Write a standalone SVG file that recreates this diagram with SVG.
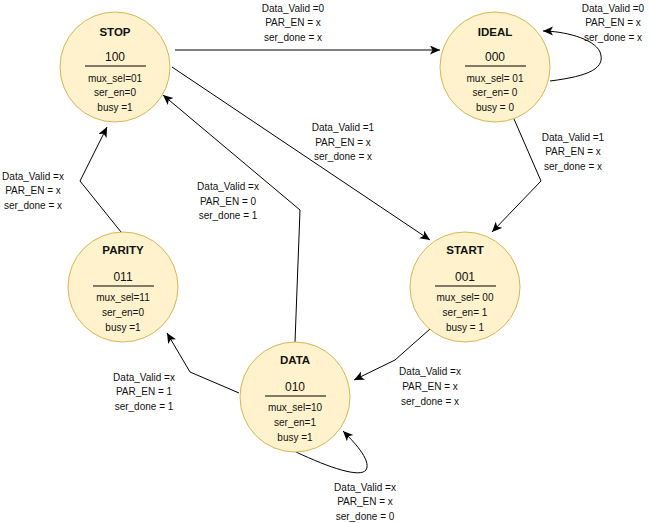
<svg xmlns="http://www.w3.org/2000/svg" width="650" height="523" viewBox="0 0 650 523">
<style>
.st{fill:#fff2cc;stroke:#d6b656;stroke-width:1}
.ttl{font-family:"Liberation Sans",Arial,sans-serif;font-size:11.5px;font-weight:bold;fill:#111;text-anchor:middle}
.code{font-family:"Liberation Sans",Arial,sans-serif;font-size:12px;fill:#111;text-anchor:middle}
.t{font-family:"Liberation Sans",Arial,sans-serif;font-size:10px;fill:#111;text-anchor:middle}
.sep{stroke:#000;stroke-width:1}
.e{fill:none;stroke:#000;stroke-width:1;marker-end:url(#ah)}
.lb{font-family:"Liberation Sans",Arial,sans-serif;font-size:10px;fill:#111;text-anchor:middle}
</style>
<defs>
<marker id="ah" markerUnits="userSpaceOnUse" markerWidth="12" markerHeight="10" refX="10" refY="4.5" orient="auto">
<path d="M0,0 L10,4.5 L0,9 L2.5,4.5 z" fill="#000"/>
</marker>
</defs>
<rect width="650" height="523" fill="#fff"/>
<g id="connectors">
<path class="e" d="M175,50 L440,50"/>
<path class="e" d="M550,81 C590,76 606,68 600,52 C594,38 562,31 543,31"/>
<path class="e" d="M514,119 L541,181 L492,232"/>
<path class="e" d="M172,67 L430,240"/>
<path class="e" d="M430,329 L395,360 L354,380"/>
<path class="e" d="M296,452 C330,468 360,478 366,470 C372,460 352,440 343,431"/>
<path class="e" d="M239,393 L190,372 L167,333"/>
<path class="e" d="M295,342 L300,210 L163,95"/>
<path class="e" d="M121,232 L80,181 L107,127"/>
</g>
<g id="labels">
<text class="lb" x="293" y="12">Data_Valid =0</text><text class="lb" x="293" y="26">PAR_EN = x</text><text class="lb" x="293" y="41">ser_done = x</text>
<text class="lb" x="613" y="12">Data_Valid =0</text><text class="lb" x="613" y="26">PAR_EN = x</text><text class="lb" x="613" y="41">ser_done = x</text>
<text class="lb" x="343" y="131">Data_Valid =1</text><text class="lb" x="343" y="146">PAR_EN = x</text><text class="lb" x="343" y="160">ser_done = x</text>
<text class="lb" x="573" y="141">Data_Valid =1</text><text class="lb" x="573" y="155">PAR_EN = x</text><text class="lb" x="573" y="170">ser_done = x</text>
<text class="lb" x="33" y="180">Data_Valid =x</text><text class="lb" x="33" y="194">PAR_EN = x</text><text class="lb" x="33" y="209">ser_done = x</text>
<text class="lb" x="228" y="190">Data_Valid =x</text><text class="lb" x="228" y="205">PAR_EN = 0</text><text class="lb" x="228" y="219">ser_done = 1</text>
<text class="lb" x="144" y="381">Data_Valid =x</text><text class="lb" x="144" y="395">PAR_EN = 1</text><text class="lb" x="144" y="410">ser_done = 1</text>
<text class="lb" x="430" y="375">Data_Valid =x</text><text class="lb" x="430" y="390">PAR_EN = x</text><text class="lb" x="430" y="405">ser_done = x</text>
<text class="lb" x="365" y="491">Data_Valid =x</text><text class="lb" x="365" y="505">PAR_EN = x</text><text class="lb" x="365" y="520">ser_done = 0</text>
</g>
<g id="stop">
<circle class="st" cx="115" cy="67" r="55"/>
<text class="ttl" x="115" y="36">STOP</text>
<text class="code" x="115" y="61">100</text>
<line class="sep" x1="85" y1="66" x2="146" y2="66"/>
<text class="t" x="115" y="82">mux_sel=01</text>
<text class="t" x="115" y="96">ser_en=0</text>
<text class="t" x="115" y="111">busy =1</text>
</g>
<g id="ideal">
<circle class="st" cx="495" cy="67" r="55"/>
<text class="ttl" x="495" y="36">IDEAL</text>
<text class="code" x="495" y="61">000</text>
<line class="sep" x1="465" y1="66" x2="526" y2="66"/>
<text class="t" x="495" y="82">mux_sel= 01</text>
<text class="t" x="495" y="96">ser_en= 0</text>
<text class="t" x="495" y="111">busy = 0</text>
</g>
<g id="parity">
<circle class="st" cx="123" cy="287" r="55"/>
<text class="ttl" x="123" y="254">PARITY</text>
<text class="code" x="123" y="281">011</text>
<line class="sep" x1="93" y1="286" x2="154" y2="286"/>
<text class="t" x="123" y="301">mux_sel=11</text>
<text class="t" x="123" y="316">ser_en=0</text>
<text class="t" x="123" y="331">busy =1</text>
</g>
<g id="start">
<circle class="st" cx="465" cy="287" r="55"/>
<text class="ttl" x="465" y="254">START</text>
<text class="code" x="465" y="281">001</text>
<line class="sep" x1="435" y1="286" x2="496" y2="286"/>
<text class="t" x="465" y="301">mux_sel= 00</text>
<text class="t" x="465" y="316">ser_en= 1</text>
<text class="t" x="465" y="331">busy = 1</text>
</g>
<g id="data">
<circle class="st" cx="295" cy="397" r="55"/>
<text class="ttl" x="295" y="364">DATA</text>
<text class="code" x="295" y="391">010</text>
<line class="sep" x1="265" y1="396" x2="326" y2="396"/>
<text class="t" x="295" y="411">mux_sel=10</text>
<text class="t" x="295" y="426">ser_en=1</text>
<text class="t" x="295" y="441">busy =1</text>
</g>
</svg>
